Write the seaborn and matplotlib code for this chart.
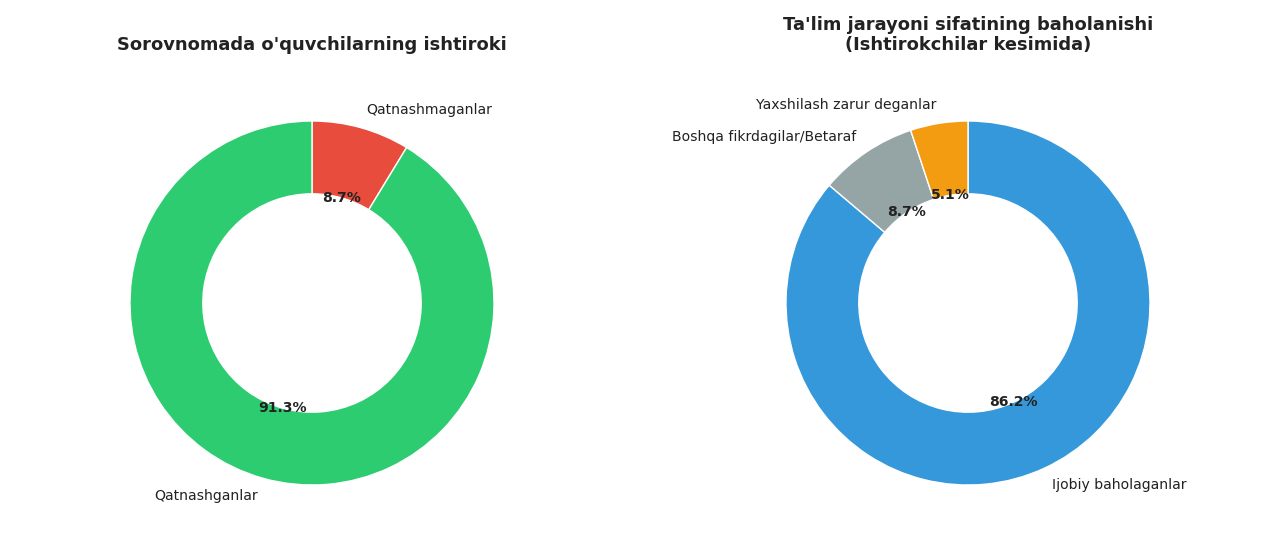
import matplotlib
matplotlib.use("Agg")
import matplotlib.pyplot as plt
import seaborn as sns

sns.set_theme(style="white")
plt.rcParams['font.family'] = ['DejaVu Sans']

# Left chart data
part_labels = ["Qatnashmaganlar", "Qatnashganlar"]
part_values = [8.7, 91.3]
part_colors = ["#e74c3c", "#2ecc71"]
part_title = "Sorovnomada o'quvchilarning ishtiroki"

# Right chart data
eval_labels = ["Ijobiy baholaganlar", "Boshqa fikrdagilar/Betaraf", "Yaxshilash zarur deganlar"]
eval_values = [86.2, 8.7, 5.1]
eval_colors = ["#3498db", "#95a5a6", "#f39c12"]
eval_title = "Ta'lim jarayoni sifatining baholanishi\n(Ishtirokchilar kesimida)"

W, H = 1280, 548
fig = plt.figure(figsize=(W / 100, H / 100), dpi=100)
fig.patch.set_facecolor("white")

R = 182.0
K = 1.25
half = R * K


def make_ax(cx, cy_top):
    cy = H - cy_top
    return fig.add_axes([(cx - half) / W, (cy - half) / H, 2 * half / W, 2 * half / H])


label_fs = 10.1
text_color = "#222222"


def donut(ax, values, labels, colors, title):
    wedges, texts, autotexts = ax.pie(
        values, labels=labels, colors=colors, autopct="%1.1f%%",
        startangle=90, counterclock=False, pctdistance=0.6, labeldistance=1.1,
        wedgeprops=dict(width=0.4, edgecolor="white", linewidth=1),
        textprops=dict(fontsize=label_fs, color=text_color),
    )
    for t in autotexts:
        t.set_fontweight("bold")
        t.set_color(text_color)
    ax.set_xlim(-K, K)
    ax.set_ylim(-K, K)
    ax.set_aspect("equal")
    ax.axis("off")
    ax.set_title(title, fontsize=12.85, fontweight="bold", color=text_color,
                 pad=18.5, linespacing=1.15)


ax1 = make_ax(312, 303)
donut(ax1, part_values, part_labels, part_colors, part_title)
ax2 = make_ax(968, 303)
donut(ax2, eval_values, eval_labels, eval_colors, eval_title)

fig.savefig("out.png", dpi=100, facecolor="white")
